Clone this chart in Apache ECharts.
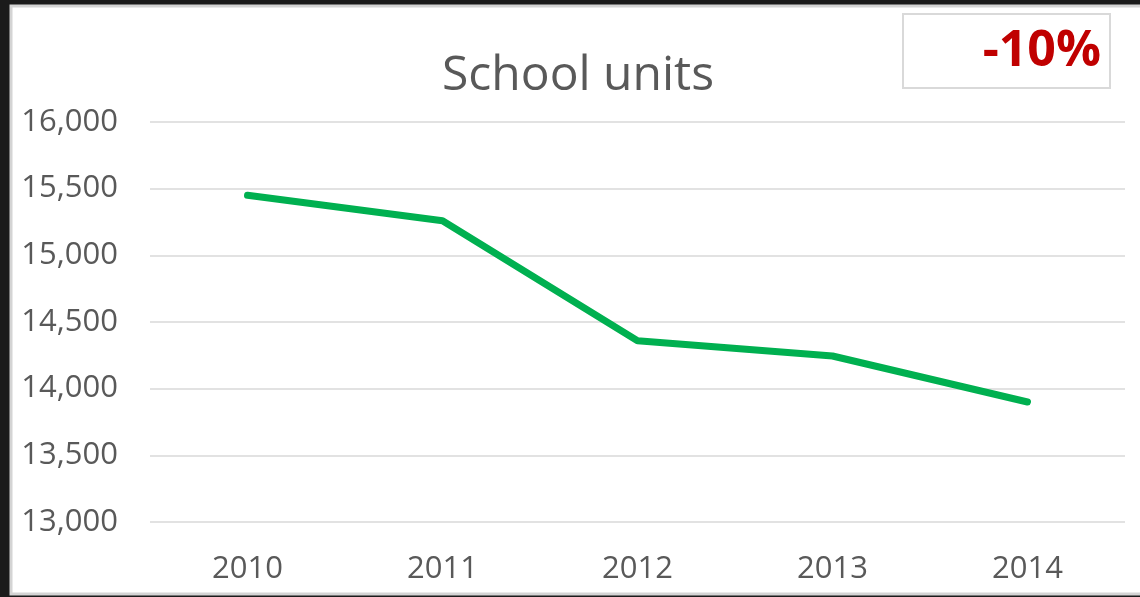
<!DOCTYPE html>
<html>
<head>
<meta charset="utf-8">
<script src="https://cdn.jsdelivr.net/npm/echarts@6/dist/echarts.min.js"></script>
<style>
html, body { margin: 0; padding: 0; background: #1b1b1b; }
#schoolChart { width: 1140px; height: 597px; }
</style>
</head>
<body>
<div id="schoolChart"></div>
<script>
// data
var years = ['2010', '2011', '2012', '2013', '2014'];
var units = [15450, 15260, 14360, 14245, 13900];
var changeLabel = '-10%';
var chartTitle = 'School units';

var chart = echarts.init(document.getElementById('schoolChart'));

var option = {
    backgroundColor: '#1b1b1b',
    animation: false,
    graphic: [
        {
            // white chart area
            type: 'rect',
            z: -10,
            shape: { x: 11, y: 6, width: 1140, height: 588 },
            style: { fill: '#ffffff', stroke: '#d4d4d4', lineWidth: 3 }
        },
        {
            // the -10% box
            type: 'rect',
            shape: { x: 903, y: 14, width: 207, height: 74 },
            style: { fill: '#ffffff', stroke: '#d9d9d9', lineWidth: 2 }
        },
        {
            type: 'text',
            right: 39,
            top: 27,
            style: {
                text: changeLabel,
                fill: '#c00000',
                font: 'bold 50px "Open Sans"'
            }
        }
    ],
    title: {
        text: chartTitle,
        left: 437,
        top: 47,
        textStyle: {
            color: '#595959',
            fontSize: 48,
            fontWeight: 'normal',
            fontFamily: 'Open Sans'
        }
    },
    grid: {
        left: 150,
        right: 15,
        top: 122,
        bottom: 75
    },
    xAxis: {
        type: 'category',
        data: years,
        boundaryGap: true,
        axisLine: { show: false },
        axisTick: { show: false },
        axisLabel: {
            color: '#595959',
            fontSize: 31,
            fontFamily: 'Open Sans',
            margin: 32
        }
    },
    yAxis: {
        type: 'value',
        min: 13000,
        max: 16000,
        interval: 500,
        axisLine: { show: false },
        axisTick: { show: false },
        axisLabel: {
            color: '#595959',
            fontSize: 31,
            fontFamily: 'Open Sans',
            margin: 32,
            formatter: function (v) {
                return v.toLocaleString('en-US');
            }
        },
        splitLine: {
            lineStyle: { color: '#d9d9d9', width: 1.5 }
        }
    },
    series: [
        {
            name: chartTitle,
            type: 'line',
            data: units,
            showSymbol: false,
            lineStyle: {
                color: '#00b050',
                width: 7,
                cap: 'round',
                join: 'round'
            }
        }
    ]
};

chart.setOption(option, true);
</script>
</body>
</html>
